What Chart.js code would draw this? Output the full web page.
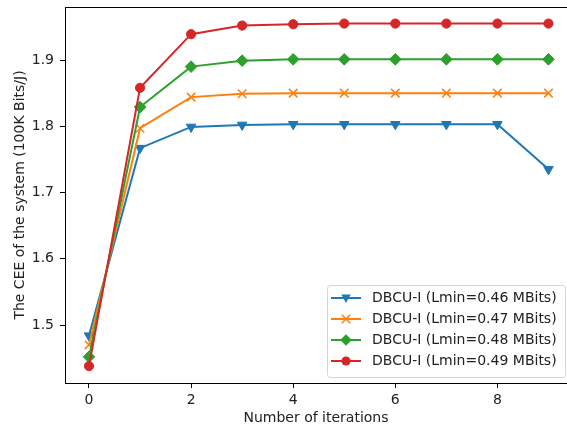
<!DOCTYPE html>
<html lang="en">
<head>
  <meta charset="UTF-8">
  <title>CEE vs iterations</title>
  <script src="https://cdn.jsdelivr.net/npm/chart.js"></script>
  <style>
    html, body { margin: 0; padding: 0; background: #fff; }
    #wrap { width: 567px; height: 427px; }
  </style>
</head>
<body>
  <div id="wrap"><canvas id="ceeChart" width="567" height="427"></canvas></div>

<script>
// data
const iterations = [0, 1, 2, 3, 4, 5, 6, 7, 8, 9];
const cee046 = [1.484, 1.767, 1.799, 1.802, 1.803, 1.803, 1.803, 1.803, 1.803, 1.735];
const cee047 = [1.470, 1.797, 1.844, 1.849, 1.850, 1.850, 1.850, 1.850, 1.850, 1.850];
const cee048 = [1.452, 1.829, 1.890, 1.899, 1.901, 1.901, 1.901, 1.901, 1.901, 1.901];
const cee049 = [1.438, 1.858, 1.939, 1.952, 1.954, 1.955, 1.955, 1.955, 1.955, 1.955];
const seriesNames = [
  'DBCU-I (Lmin=0.46 MBits)',
  'DBCU-I (Lmin=0.47 MBits)',
  'DBCU-I (Lmin=0.48 MBits)',
  'DBCU-I (Lmin=0.49 MBits)'
];
const xTicks = [0, 2, 4, 6, 8];
const yTicks = [1.5, 1.6, 1.7, 1.8, 1.9];

const colors = ['#1f77b4', '#ff7f0e', '#2ca02c', '#d62728'];
const markers = [
  { style: 'triangle', rotation: 180, radius: 5.5 },
  { style: 'crossRot', rotation: 0, radius: 6 },
  { style: 'rectRot', rotation: 0, radius: 5.8 },
  { style: 'circle', rotation: 0, radius: 4.6 }
];
const allSeries = [cee046, cee047, cee048, cee049];
const FONT = 'DejaVu Sans';
const FSIZE = 14;

const datasets = allSeries.map((vals, i) => ({
  label: seriesNames[i],
  data: vals.map((v, j) => ({ x: iterations[j], y: v })),
  borderColor: colors[i],
  backgroundColor: colors[i],
  borderWidth: 2,
  pointStyle: markers[i].style,
  rotation: markers[i].rotation,
  pointRadius: markers[i].radius,
  pointBorderWidth: i === 1 ? 1.5 : 1,
  pointBorderColor: colors[i],
  pointBackgroundColor: colors[i],
  tension: 0,
  order: 3 - i
}));

function noPad(scale) {
  scale.paddingTop = 0;
  scale.paddingBottom = 0;
  scale.paddingLeft = 0;
  scale.paddingRight = 0;
}

// top spine + matplotlib style legend
const extras = {
  id: 'extras',
  afterDraw(chart) {
    const ctx = chart.ctx;
    const a = chart.chartArea;
    ctx.save();
    ctx.strokeStyle = '#000';
    ctx.lineWidth = 1;
    ctx.beginPath();
    ctx.moveTo(a.left, Math.round(a.top) + 0.5);
    ctx.lineTo(a.right, Math.round(a.top) + 0.5);
    ctx.stroke();

    // legend box
    const bx = 327.5, by = 285.5, bw = 238, bh = 92, r = 3;
    ctx.beginPath();
    ctx.moveTo(bx + r, by);
    ctx.lineTo(bx + bw - r, by);
    ctx.quadraticCurveTo(bx + bw, by, bx + bw, by + r);
    ctx.lineTo(bx + bw, by + bh - r);
    ctx.quadraticCurveTo(bx + bw, by + bh, bx + bw - r, by + bh);
    ctx.lineTo(bx + r, by + bh);
    ctx.quadraticCurveTo(bx, by + bh, bx, by + bh - r);
    ctx.lineTo(bx, by + r);
    ctx.quadraticCurveTo(bx, by, bx + r, by);
    ctx.fillStyle = 'rgba(255,255,255,0.8)';
    ctx.fill();
    ctx.strokeStyle = '#d4d4d4';
    ctx.stroke();

    ctx.font = FSIZE + 'px "' + FONT + '"';
    ctx.textBaseline = 'middle';
    seriesNames.forEach((name, i) => {
      const y = 298 + i * 21;
      ctx.strokeStyle = colors[i];
      ctx.fillStyle = colors[i];
      ctx.lineWidth = 2;
      ctx.beginPath();
      ctx.moveTo(331, y);
      ctx.lineTo(361, y);
      ctx.stroke();
      const cx = 346;
      ctx.lineWidth = 1;
      if (i === 0) {
        ctx.beginPath();
        ctx.moveTo(cx - 4.7, y - 3.5);
        ctx.lineTo(cx + 4.7, y - 3.5);
        ctx.lineTo(cx, y + 5);
        ctx.closePath();
        ctx.fill();
      } else if (i === 1) {
        ctx.lineWidth = 1.5;
        ctx.beginPath();
        ctx.moveTo(cx - 4.2, y - 4.2); ctx.lineTo(cx + 4.2, y + 4.2);
        ctx.moveTo(cx + 4.2, y - 4.2); ctx.lineTo(cx - 4.2, y + 4.2);
        ctx.stroke();
      } else if (i === 2) {
        ctx.beginPath();
        ctx.moveTo(cx, y - 5.8); ctx.lineTo(cx + 5.8, y);
        ctx.lineTo(cx, y + 5.8); ctx.lineTo(cx - 5.8, y);
        ctx.closePath();
        ctx.fill();
      } else {
        ctx.beginPath();
        ctx.arc(cx, y, 4.6, 0, Math.PI * 2);
        ctx.fill();
      }
      ctx.fillStyle = '#222';
      ctx.fillText(name, 372, y + 0.5);
    });
    ctx.restore();
  }
};

new Chart(document.getElementById('ceeChart'), {
  type: 'line',
  data: { datasets: datasets },
  options: {
    responsive: false,
    animation: false,
    layout: { autoPadding: false, padding: { top: 7, right: 0, left: 0, bottom: 0 } },
    plugins: {
      legend: { display: false },
      tooltip: { enabled: false }
    },
    scales: {
      x: {
        type: 'linear',
        min: -0.47,
        max: 9.363,
        afterBuildTicks: (scale) => { scale.ticks = xTicks.map(v => ({ value: v })); },
        afterFit: (scale) => { scale.height = 44; noPad(scale); },
        grid: { drawOnChartArea: false, tickLength: 5, tickColor: '#000' },
        border: { color: '#000', width: 1 },
        ticks: { color: '#222', padding: 4, font: { family: FONT, size: FSIZE } },
        title: {
          display: true,
          text: 'Number of iterations',
          color: '#222',
          font: { family: FONT, size: FSIZE },
          padding: { top: 0, bottom: 0 }
        }
      },
      y: {
        type: 'linear',
        min: 1.4125,
        max: 1.98,
        afterBuildTicks: (scale) => { scale.ticks = yTicks.map(v => ({ value: v })); },
        afterFit: (scale) => { scale.width = 65; noPad(scale); },
        grid: { drawOnChartArea: false, tickLength: 5, tickColor: '#000' },
        border: { color: '#000', width: 1 },
        ticks: {
          color: '#222',
          padding: 6,
          font: { family: FONT, size: FSIZE },
          callback: (v) => Number(v).toFixed(1)
        },
        title: {
          display: true,
          text: 'The CEE of the system (100K Bits/J)',
          color: '#222',
          font: { family: FONT, size: FSIZE },
          padding: { top: 12, bottom: 0 }
        }
      }
    }
  },
  plugins: [extras]
});
</script>
</body>
</html>
